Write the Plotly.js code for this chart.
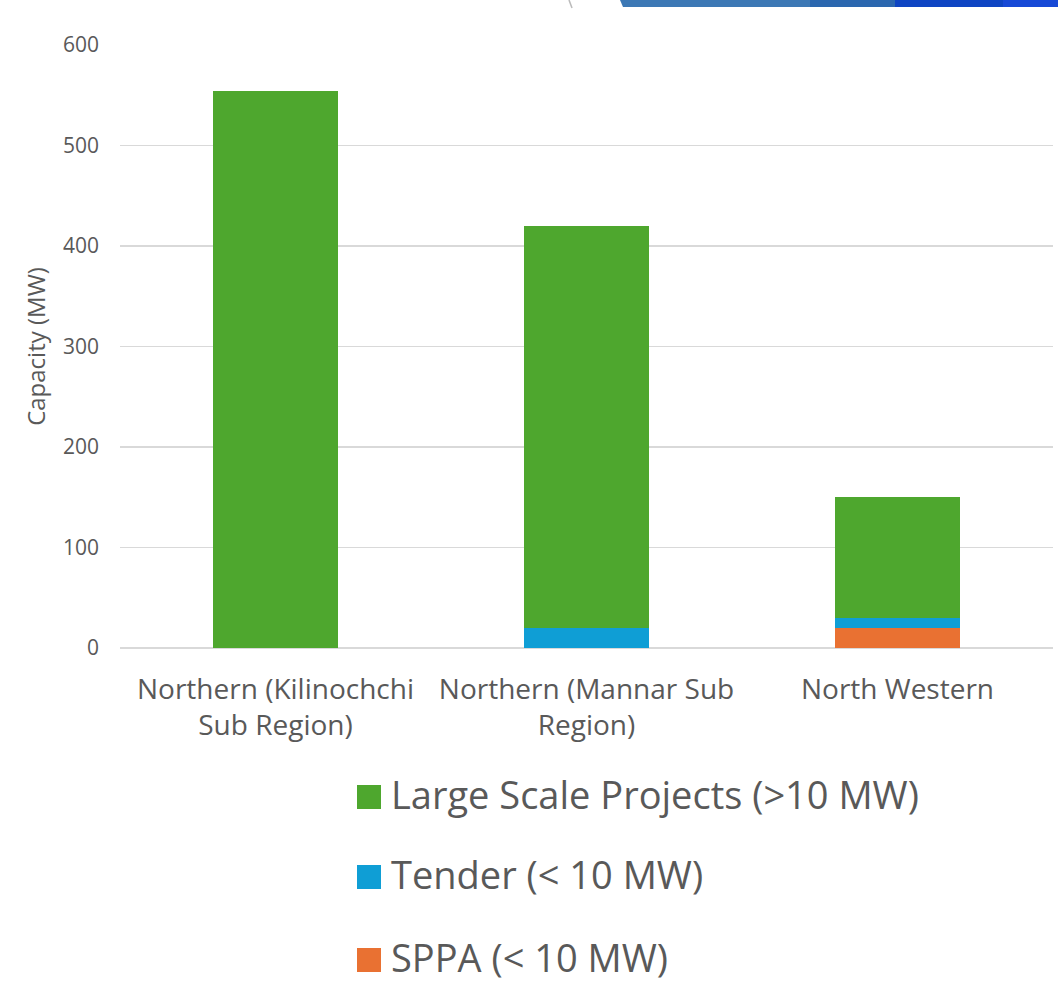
<!DOCTYPE html>
<html>
<head>
<meta charset="utf-8">
<script src="https://cdn.plot.ly/plotly-3.0.1.min.js"></script>
<style>
  html, body { margin: 0; padding: 0; background: #ffffff; }
  #chart { width: 1058px; height: 985px; }
</style>
</head>
<body>
<div id="chart"></div>
<script>
// Regions shown along the x axis
const categories = [
  "Northern (Kilinochchi<br>Sub Region)",
  "Northern (Mannar Sub<br>Region)",
  "North Western"
];

// Capacity in MW, stacked bottom to top
const sppaValues = [0, 0, 20];
const tenderValues = [0, 20, 10];
const largeScaleValues = [554, 400, 120];

const seriesNames = ["SPPA (< 10 MW)", "Tender (< 10 MW)", "Large Scale Projects (>10 MW)"];
const seriesColors = ["#E97132", "#0F9ED5", "#4EA72E"];
const seriesValues = [sppaValues, tenderValues, largeScaleValues];

const yTicks = [0, 100, 200, 300, 400, 500, 600];

const FONT = "Open Sans, sans-serif";
const TEXT = "#595959";

const W = 1058, H = 985;
const M = { l: 120, r: 5, t: 45, b: 337 };
const plotW = W - M.l - M.r;
const plotH = H - M.t - M.b;
const px2x = (px) => (px - M.l) / plotW;
const px2y = (py) => (H - M.b - py) / plotH;

const traces = seriesValues.map((vals, i) => ({
  type: "bar",
  x: categories,
  y: vals,
  name: seriesNames[i],
  marker: { color: seriesColors[i], line: { width: 0 } },
  hoverinfo: "x+y+name",
  showlegend: false
}));

// Legend drawn as large swatches with labels beneath the plot, top to bottom
const legendOrder = [2, 1, 0];
const rowCenters = [797, 877, 960];
const shapes = [];
const annotations = [];
legendOrder.forEach((idx, row) => {
  const cy = rowCenters[row];
  shapes.push({
    type: "rect", xref: "paper", yref: "paper",
    x0: px2x(357), x1: px2x(381),
    y0: px2y(cy + 12), y1: px2y(cy - 12),
    fillcolor: seriesColors[idx], line: { width: 0 }, layer: "above"
  });
  annotations.push({
    xref: "paper", yref: "paper",
    x: px2x(389), y: px2y(cy - 3),
    xanchor: "left", yanchor: "middle",
    text: seriesNames[idx], showarrow: false,
    font: { family: FONT, size: 38, color: TEXT }
  });
});

// Slide header strip at the top right edge
const bandSegments = [
  { x0: 620, x1: 811, c: "#3C78B5" },
  { x0: 810, x1: 896, c: "#2B67AF" },
  { x0: 895, x1: 1004, c: "#0E45C3" },
  { x0: 1003, x1: 1058, c: "#1749D6" }
];
bandSegments.forEach((s, i) => {
  const xa = px2x(s.x0 + (i === 0 ? 3 : 0));
  const xb = px2x(s.x0);
  const xc = px2x(s.x1);
  const yt = px2y(0), yb = px2y(7);
  shapes.push({
    type: "path", xref: "paper", yref: "paper",
    path: `M ${xb} ${yt} L ${xc} ${yt} L ${xc} ${yb} L ${xa} ${yb} Z`,
    fillcolor: s.c, line: { width: 0 }
  });
});
shapes.push({
  type: "path", xref: "paper", yref: "paper",
  path: `M ${px2x(569)} ${px2y(0)} Q ${px2x(570.5)} ${px2y(4)} ${px2x(572)} ${px2y(8)}`,
  line: { color: "#BBBBBB", width: 1.5 }
});

const layout = {
  width: W, height: H,
  margin: M,
  paper_bgcolor: "#ffffff",
  plot_bgcolor: "#ffffff",
  barmode: "stack",
  bargap: 0.6,
  font: { family: FONT, color: TEXT },
  xaxis: {
    type: "category",
    showgrid: false, showline: false, zeroline: false,
    ticks: "", ticklabelstandoff: 22,
    tickfont: { family: FONT, size: 28, color: TEXT },
    fixedrange: true
  },
  yaxis: {
    range: [0, 600],
    tickvals: yTicks,
    showgrid: true, gridcolor: "#D9D9D9", gridwidth: 1.5,
    zeroline: true, zerolinecolor: "#D9D9D9", zerolinewidth: 1.5,
    showline: false, ticks: "", ticklabelstandoff: 20,
    tickfont: { family: FONT, size: 21, color: TEXT },
    title: { text: "Capacity (MW)", standoff: 10, font: { family: FONT, size: 24, color: TEXT } },
    automargin: false,
    fixedrange: true
  },
  shapes: shapes,
  annotations: annotations,
  showlegend: false
};

Plotly.newPlot("chart", traces, layout, { displayModeBar: false, staticPlot: true });
</script>
</body>
</html>
